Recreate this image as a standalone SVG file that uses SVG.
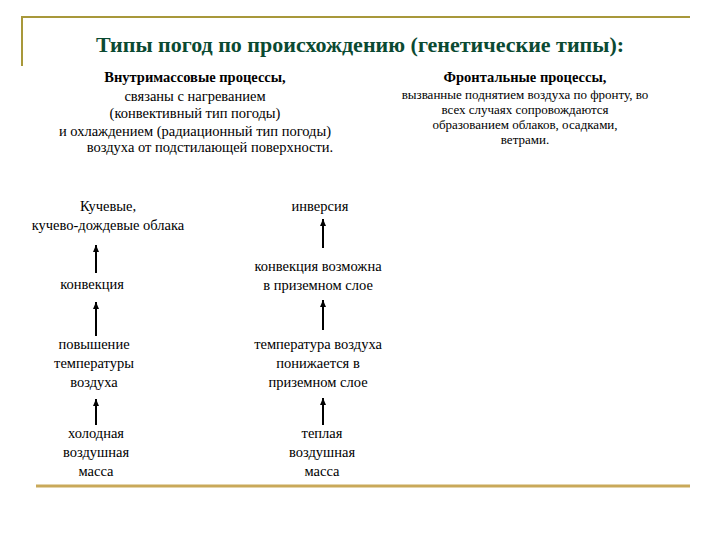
<svg xmlns="http://www.w3.org/2000/svg" width="720" height="540" viewBox="0 0 720 540">
<style>
text{font-family:'Liberation Serif','Times New Roman','DejaVu Serif',serif;font-size:14.5px;fill:#000;text-anchor:middle}
.b{font-weight:bold}
.s{font-size:13px}
.t{font-size:22px;font-weight:bold;fill:#0b4a32}
.ln{stroke:#000;stroke-width:2;fill:none}
</style>
<defs><marker id="ah" markerWidth="8" markerHeight="8" refX="7" refY="3" orient="auto" markerUnits="userSpaceOnUse"><path d="M0,0 L7,3 L0,6 Z" fill="#000"/></marker></defs>
<rect width="720" height="540" fill="#fff"/>
<path d="M22,66 V17 H690" stroke="#a8983a" stroke-width="2" fill="none"/>
<line x1="36" y1="486" x2="690" y2="486" stroke="#c9a95a" stroke-width="3"/>
<text class="t" x="360" y="52">Типы погод по происхождению (генетические типы):</text>
<g id="intra"><text class="b" x="195" y="82">Внутримассовые процессы,</text>
<text x="195" y="101">связаны с нагреванием</text>
<text x="195" y="118">(конвективный тип погоды)</text>
<text x="195" y="136">и охлаждением (радиационный тип погоды)</text>
<text x="210" y="152">воздуха  от подстилающей поверхности.</text></g>
<g id="front"><text class="b" x="525" y="82">Фронтальные процессы,</text>
<text class="s" x="525" y="99">вызванные поднятием воздуха по фронту, во</text>
<text class="s" x="525" y="114">всех случаях сопровождаются</text>
<text class="s" x="525" y="129">образованием облаков, осадками,</text>
<text class="s" x="525" y="144">ветрами.</text></g>
<g id="n1"><text x="108" y="211">Кучевые,</text><text x="108" y="230">кучево-дождевые облака</text></g>
<g id="n2"><text x="92" y="289">конвекция</text></g>
<g id="n3"><text x="94" y="349">повышение</text><text x="94" y="368">температуры</text><text x="94" y="387">воздуха</text></g>
<g id="n4"><text x="96" y="438">холодная</text><text x="96" y="457">воздушная</text><text x="96" y="476">масса</text></g>
<g id="n5"><text x="320" y="211">инверсия</text></g>
<g id="n6"><text x="318" y="271">конвекция возможна</text><text x="318" y="290">в приземном слое</text></g>
<g id="n7"><text x="318" y="349">температура воздуха</text><text x="318" y="368">понижается в</text><text x="318" y="387">приземном слое</text></g>
<g id="n8"><text x="322" y="438">теплая</text><text x="322" y="457">воздушная</text><text x="322" y="476">масса</text></g>
<g id="connectors">
<line class="ln" x1="96" y1="273" x2="96" y2="245" marker-end="url(#ah)"/>
<line class="ln" x1="96" y1="336" x2="96" y2="302" marker-end="url(#ah)"/>
<line class="ln" x1="96" y1="425" x2="96" y2="399" marker-end="url(#ah)"/>
<line class="ln" x1="323" y1="248" x2="323" y2="219" marker-end="url(#ah)"/>
<line class="ln" x1="323" y1="330" x2="323" y2="300" marker-end="url(#ah)"/>
<line class="ln" x1="323" y1="425" x2="323" y2="398" marker-end="url(#ah)"/>
</g>
</svg>
